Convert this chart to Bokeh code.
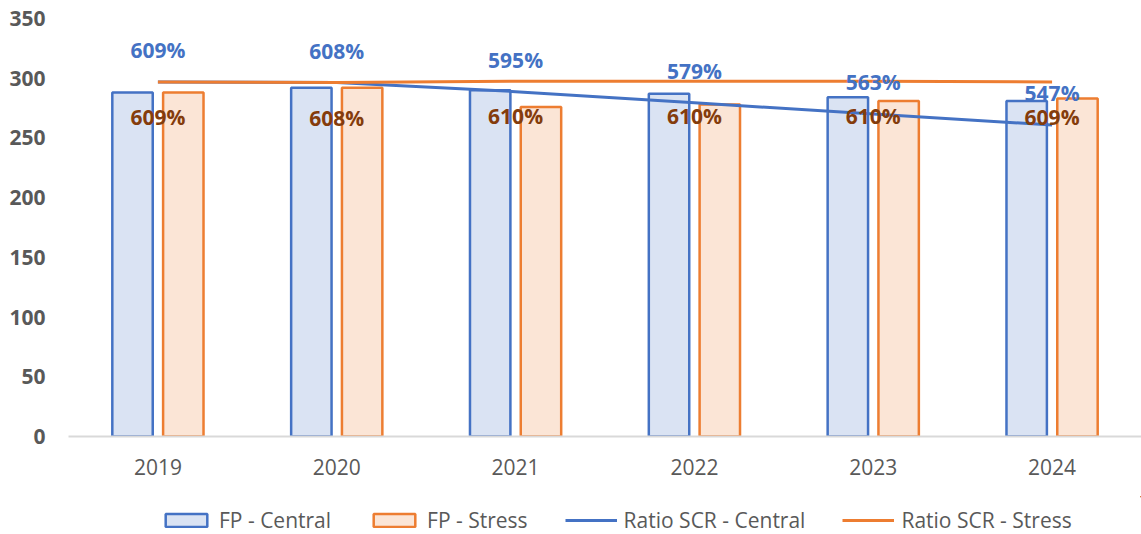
from bokeh.plotting import figure
from bokeh.layouts import column
from bokeh.models import (ColumnDataSource, FactorRange, Range1d, Legend, LegendItem, LabelSet)
from bokeh.transform import dodge
from bokeh.core.properties import value
from bokeh.embed import file_html
from bokeh.resources import INLINE

years = ["2019", "2020", "2021", "2022", "2023", "2024"]
fp_central = [288, 292, 290, 287, 284, 281]
fp_stress = [288, 292, 276, 278, 281, 283]
ratio_central = [609, 608, 595, 579, 563, 547]
ratio_stress = [609, 608, 610, 610, 610, 609]
y_ticks = [0, 50, 100, 150, 200, 250, 300, 350]
series_names = ["FP - Central", "FP - Stress", "Ratio SCR - Central", "Ratio SCR - Stress"]

FONT = "Open Sans"
BLUE = "#4472C4"
ORANGE = "#ED7D31"
GREY = "#595959"
BAR_C = dict(fill_color="#DAE3F3", line_color=BLUE, line_width=2.5)
BAR_S = dict(fill_color="#FBE5D6", line_color=ORANGE, line_width=2.5)

src = ColumnDataSource(dict(
    year=years,
    fp_c=fp_central,
    fp_s=fp_stress,
    r_c=ratio_central,
    r_s=ratio_stress,
    lab_c=[f"{v}%" for v in ratio_central],
    lab_s=[f"{v}%" for v in ratio_stress],
))

p = figure(x_range=FactorRange(*years), y_range=Range1d(0, 350),
           frame_width=1073, frame_height=418,
           min_border_left=68, min_border_right=0, min_border_top=18, min_border_bottom=60,
           output_backend="svg", toolbar_location=None)
p.extra_y_ranges = {"ratio": Range1d(100, 700)}

p.vbar(x=dodge("year", -0.142, range=p.x_range), top="fp_c", width=0.226, source=src, **BAR_C)
p.vbar(x=dodge("year", 0.142, range=p.x_range), top="fp_s", width=0.226, source=src, **BAR_S)
p.line(x="year", y="r_c", y_range_name="ratio", source=src, line_color=BLUE, line_width=3)
p.line(x="year", y="r_s", y_range_name="ratio", source=src, line_color=ORANGE, line_width=3)

lc = LabelSet(x="year", y="r_c", y_range_name="ratio", text="lab_c", source=src,
              text_align="center", text_baseline="middle", y_offset=32,
              text_color=BLUE, text_font=value(FONT), text_font_size="21px", text_font_style="bold")
ls = LabelSet(x="year", y="r_s", y_range_name="ratio", text="lab_s", source=src,
              text_align="center", text_baseline="middle", y_offset=-35,
              text_color="#843C0C", text_font=value(FONT), text_font_size="21px", text_font_style="bold")
p.add_layout(lc)
p.add_layout(ls)

p.xgrid.grid_line_color = None
p.ygrid.grid_line_color = None
p.outline_line_color = None

xa = p.xaxis[0]
xa.axis_line_color = "#D9D9D9"
xa.axis_line_width = 2
xa.major_tick_line_color = None
xa.minor_tick_line_color = None
xa.major_tick_out = 0
xa.major_tick_in = 0
xa.major_label_text_font = FONT
xa.major_label_text_font_size = "21px"
xa.major_label_text_color = GREY
xa.major_label_standoff = 22

ya = p.yaxis[0]
ya.ticker = y_ticks
ya.axis_line_color = None
ya.major_tick_line_color = None
ya.minor_tick_line_color = None
ya.major_tick_out = 0
ya.major_tick_in = 0
ya.major_label_text_font = FONT
ya.major_label_text_font_size = "21px"
ya.major_label_text_font_style = "bold"
ya.major_label_text_color = GREY
ya.major_label_standoff = 23

# Legend strip: the same series placed far outside its visible ranges, used only as legend proxies
lg = figure(x_range=Range1d(-2, -1), y_range=Range1d(-2, -1),
            frame_width=1073, frame_height=38,
            min_border_left=68, min_border_right=0, min_border_top=0, min_border_bottom=0,
            x_axis_type=None, y_axis_type=None, output_backend="svg", toolbar_location=None)
lg.grid.visible = False
lg.outline_line_color = None
e1 = lg.vbar(x=fp_central, top=fp_central, width=1, **BAR_C)
e2 = lg.vbar(x=fp_stress, top=fp_stress, width=1, **BAR_S)
e3 = lg.line(x=ratio_central, y=ratio_central, line_color=BLUE, line_width=3)
e4 = lg.line(x=ratio_stress, y=ratio_stress, line_color=ORANGE, line_width=3)

legend = Legend(items=[LegendItem(label=n, renderers=[r]) for n, r in zip(series_names, [e1, e2, e3, e4])],
                orientation="horizontal", location=(92, 0),
                glyph_width=52, glyph_height=16, label_standoff=7, spacing=37,
                label_text_font=FONT, label_text_font_size="21px", label_text_color=GREY,
                border_line_color=None, background_fill_alpha=0, padding=0, margin=0)
lg.add_layout(legend, "center")

layout = column(p, lg, spacing=0)
open("out.html", "w").write(file_html(layout, INLINE))
